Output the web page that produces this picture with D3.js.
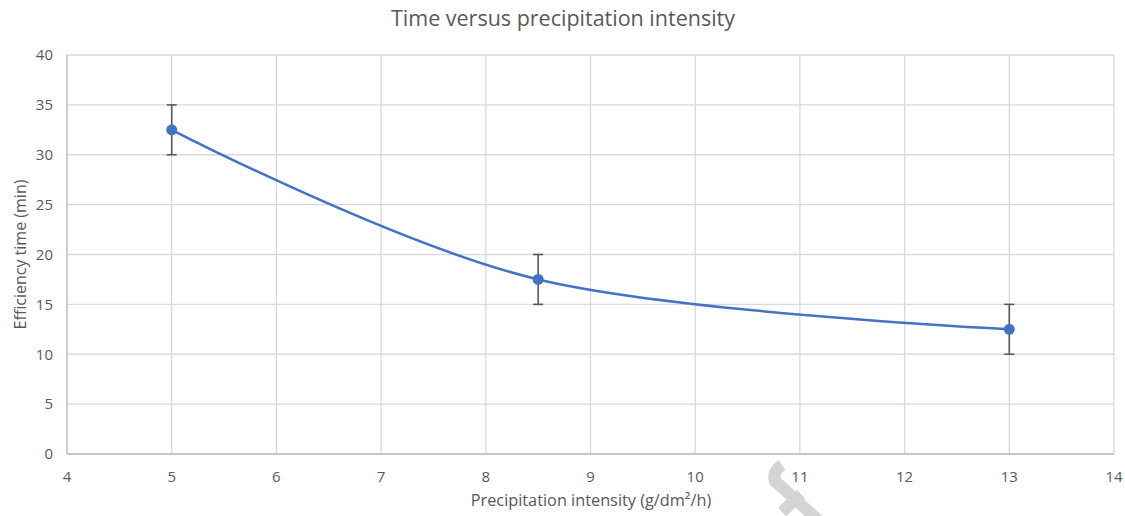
<!DOCTYPE html>
<html><head><meta charset="utf-8">
<script src="https://cdn.jsdelivr.net/npm/d3@7"></script>
<style>body{margin:0;background:#fff}svg{display:block}text{font-family:"Open Sans",sans-serif;fill:#595959}</style>
</head><body><svg id="c" width="1125" height="516"></svg>
<script>
const intensity = [5, 8.5, 13];
const timeMin = [32.5, 17.5, 12.5];
const errPlus = [2.5, 2.5, 2.5];
const errMinus = [2.5, 2.5, 2.5];
const xTicks = [4,5,6,7,8,9,10,11,12,13,14];
const yTicks = [0,5,10,15,20,25,30,35,40];
const title = "Time versus precipitation intensity";
const xTitle = "Precipitation intensity (g/dm²/h)";
const yTitle = "Efficiency time (min)";

const svg = d3.select("#c");
const m = {l:67, r:11, t:55, b:62};
const W = 1125, H = 516;
const x = d3.scaleLinear().domain([4,14]).range([m.l, W-m.r]);
const y = d3.scaleLinear().domain([0,40]).range([H-m.b, m.t]);

// grid
svg.append("g").selectAll("line").data(yTicks).join("line")
  .attr("x1", x(4)).attr("x2", x(14)).attr("y1", d=>y(d)).attr("y2", d=>y(d))
  .attr("stroke", "#d9d9d9").attr("stroke-width", 1.3);
svg.append("g").selectAll("line").data(xTicks).join("line")
  .attr("y1", y(0)).attr("y2", y(40)).attr("x1", d=>x(d)).attr("x2", d=>x(d))
  .attr("stroke", "#d9d9d9").attr("stroke-width", 1.3);
// axis lines
svg.append("line").attr("x1", x(4)).attr("x2", x(14)).attr("y1", y(0)).attr("y2", y(0)).attr("stroke","#bfbfbf").attr("stroke-width",1.3);
svg.append("line").attr("x1", x(4)).attr("x2", x(4)).attr("y1", y(0)).attr("y2", y(40)).attr("stroke","#bfbfbf").attr("stroke-width",1.3);

// tick labels
svg.append("g").selectAll("text").data(yTicks).join("text")
  .attr("x", x(4)-14).attr("y", d=>y(d)).attr("dy","0.35em").attr("text-anchor","end")
  .style("font-size","15px").text(d=>d);
svg.append("g").selectAll("text").data(xTicks).join("text")
  .attr("x", d=>x(d)).attr("y", y(0)+23).attr("dy","0.35em").attr("text-anchor","middle")
  .style("font-size","15px").text(d=>d);

// titles
svg.append("text").attr("x", 563).attr("y", 18).attr("dy","0.35em").attr("text-anchor","middle")
  .style("font-size","21.5px").text(title);
svg.append("text").attr("x", 591).attr("y", 500).attr("dy","0.35em").attr("text-anchor","middle")
  .style("font-size","16.3px").text(xTitle);
svg.append("text").attr("transform", `translate(20,${y(20)}) rotate(-90)`).attr("dy","0.35em").attr("text-anchor","middle")
  .style("font-size","16px").text(yTitle);

const pts = intensity.map((v,i)=>({x:v, y:timeMin[i], ep:errPlus[i], em:errMinus[i]}));

// smoothed line
const line = d3.line().x(d=>x(d.x)).y(d=>y(d.y)).curve(d3.curveCatmullRom.alpha(0));
svg.append("path").datum(pts).attr("d", line).attr("fill","none").attr("stroke","#4472C4").attr("stroke-width",2.5);

// error bars
const eb = svg.append("g").attr("stroke","#595959").attr("stroke-width",1.6);
pts.forEach(p=>{
  eb.append("line").attr("x1",x(p.x)).attr("x2",x(p.x)).attr("y1",y(p.y+p.ep)).attr("y2",y(p.y-p.em));
  eb.append("line").attr("x1",x(p.x)-5).attr("x2",x(p.x)+5).attr("y1",y(p.y+p.ep)).attr("y2",y(p.y+p.ep));
  eb.append("line").attr("x1",x(p.x)-5).attr("x2",x(p.x)+5).attr("y1",y(p.y-p.em)).attr("y2",y(p.y-p.em));
});
// markers
svg.append("g").selectAll("circle").data(pts).join("circle")
  .attr("cx", d=>x(d.x)).attr("cy", d=>y(d.y)).attr("r",5.5).attr("fill","#4472C4");

// watermark-like mark
svg.append("path").attr("d","M782,465 Q772,472 775,481 L818,520 M782,512 L801,494")
  .attr("fill","none").attr("stroke","#d4d4d4").attr("stroke-width",12).attr("stroke-linejoin","round");
</script></body></html>
